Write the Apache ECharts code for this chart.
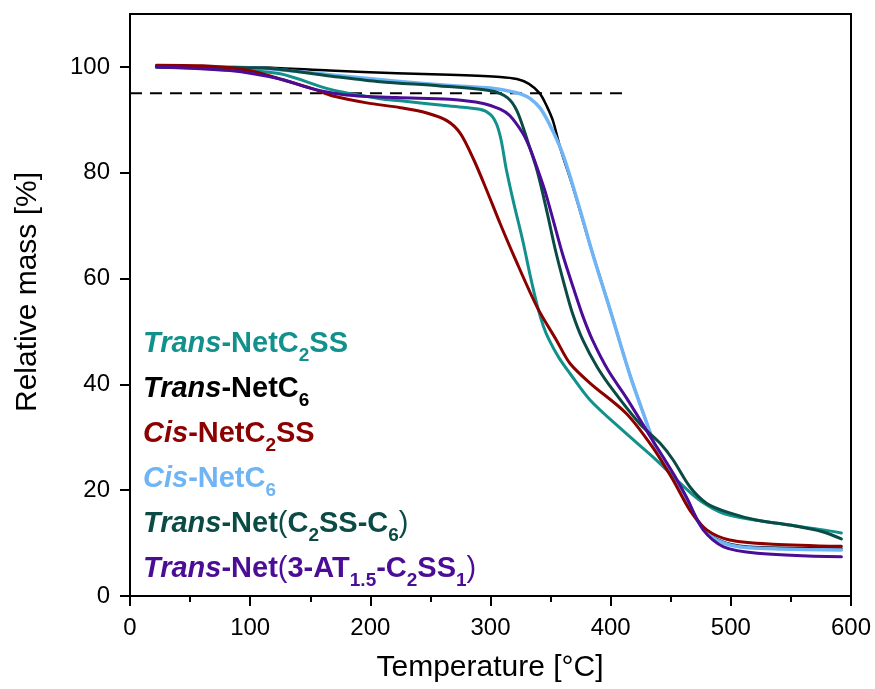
<!DOCTYPE html>
<html>
<head>
<meta charset="utf-8">
<script src="https://cdn.jsdelivr.net/npm/echarts@6/dist/echarts.min.js"></script>
<style>
  html, body { margin: 0; padding: 0; background: #fff; }
  #chart { width: 875px; height: 689px; }
</style>
</head>
<body>
<div id="chart"></div>
<script>
// TGA curves: [temperature in °C, relative mass in %]
const transNetC2SS = [[22,100],[83,99.5],[125,98.7],[166,95.8],[208,94],[225,93.6],[266,92.6],[291,92],[300,91],[305,89.2],[309,86],[313,80.8],[319,74.6],[327,67],[333,60.6],[339,54.8],[344,51],[349,48.3],[357,45],[366,42.1],[383,37],[410,31.3],[438,25.7],[458,21.3],[474,18.1],[494,15.6],[522,14.3],[549,13.4],[577,12.5],[592,11.9]];
const transNetC6 = [[22,100],[60,100],[112,99.9],[166,99.3],[222,98.8],[266,98.5],[308,98.1],[322,97.7],[332,96.8],[341,95],[347,92.5],[352,89.8],[358,84.7],[369,77],[385,64.7],[399,54.5],[416,41.8],[428,34],[438,27.8],[448,23.8],[458,20.6],[465,17.6],[472,14.5],[480,12.2],[488,10.8],[500,9.8],[515,9.3],[540,9.1],[592,9.0]];
const cisNetC2SS = [[22,100.3],[60,100.2],[100,99.3],[125,97.7],[153,95.8],[169,94.5],[197,93.2],[225,92.3],[247,91.3],[264,89.8],[275,87.4],[286,82.5],[297,76.6],[308,70.4],[320,64],[339,54.5],[355,48.3],[366,44],[383,40.2],[413,34.5],[435,28.1],[452,21.9],[466,16.2],[480,12.5],[499,10.6],[535,9.8],[592,9.4]];
const cisNetC6 = [[22,100],[60,100.1],[112,99.7],[166,98.5],[222,97.3],[266,96.5],[300,96],[314,95.5],[325,94.9],[333,94],[341,92.3],[349,89.2],[360,83.6],[374,73.4],[385,64.7],[399,54.5],[416,41.8],[428,34],[438,27.8],[448,23.8],[458,20.6],[465,17.5],[472,14.3],[480,12],[488,10.6],[500,9.6],[515,9.1],[540,8.9],[592,8.7]];
const transNetC2SSC6 = [[22,100],[111,99.8],[166,98.3],[208,97.2],[258,96.4],[300,95.5],[314,94.2],[322,91.7],[330,86.6],[339,80.2],[347,72.6],[354,65.4],[361,59.2],[368,53.6],[377,48.3],[389,43.2],[402,38.9],[424,32.6],[441,28.9],[452,25.7],[466,20.6],[480,17.5],[499,15.7],[522,14.3],[549,13.4],[577,12.1],[592,10.8]];
const transNet3AT = [[22,100],[83,99.3],[125,97.7],[153,95.8],[180,94.7],[222,94.2],[266,93.9],[294,93.1],[308,92],[316,90.8],[327,87.4],[333,84.5],[339,80.8],[345,76.8],[352,71.2],[360,64.6],[369,58.2],[377,52.8],[385,48.3],[398,42.6],[413,37.5],[435,29.4],[452,23.2],[463,18.7],[477,12.5],[494,9.3],[522,8.1],[592,7.4]];

// 95 % mass threshold
const thresholdLine = [[0,95],[413,95]];

const xTicks = [0,100,200,300,400,500,600];
const yTicks = [0,20,40,60,80,100];

const FONT = '"Liberation Sans", Arial, sans-serif';

const curves = [
  { name: 'Trans-NetC6', data: transNetC6, color: '#000000', width: 2.5 },
  { name: 'Cis-NetC6', data: cisNetC6, color: '#6fb5f5', width: 3.5 },
  { name: 'Trans-NetC2SS', data: transNetC2SS, color: '#12918c', width: 3 },
  { name: 'Trans-Net(C2SS-C6)', data: transNetC2SSC6, color: '#0b4b46', width: 3 },
  { name: 'Cis-NetC2SS', data: cisNetC2SS, color: '#8c0000', width: 3 },
  { name: 'Trans-Net(3-AT1.5-C2SS1)', data: transNet3AT, color: '#4b0c96', width: 3 }
];

const legendRows = [
  { color: '#12918c', text: '{i|Trans}{b|-NetC}{s|2}{b|SS}' },
  { color: '#000000', text: '{i|Trans}{b|-NetC}{s|6}' },
  { color: '#8c0000', text: '{i|Cis}{b|-NetC}{s|2}{b|SS}' },
  { color: '#6fb5f5', text: '{i|Cis}{b|-NetC}{s|6}' },
  { color: '#0b4b46', text: '{i|Trans}{b|-Net}{p|(}{b|C}{s|2}{b|SS-C}{s|6}{p|)}' },
  { color: '#4b0c96', text: '{i|Trans}{b|-Net}{p|(}{b|3-AT}{s|1.5}{b|-C}{s|2}{b|SS}{s|1}{p|)}' }
];

function richFor(color) {
  const main = { fontFamily: FONT, fontSize: 29, fontWeight: 'bold', color: color, height: 30, lineHeight: 30, verticalAlign: 'top' };
  return {
    i: Object.assign({}, main, { fontStyle: 'italic' }),
    b: main,
    p: Object.assign({}, main, { fontWeight: 'normal' }),
    s: { fontFamily: FONT, fontSize: 19, fontWeight: 'bold', color: color, height: 6, lineHeight: 6, verticalAlign: 'bottom' }
  };
}

const legendGraphics = legendRows.map((row, k) => ({
  type: 'text',
  left: 143,
  top: 329 + k * 45,
  style: { text: row.text, rich: richFor(row.color), fill: row.color }
}));

const chart = echarts.init(document.getElementById('chart'), null, { renderer: 'canvas' });

chart.setOption({
  animation: false,
  backgroundColor: '#ffffff',
  grid: { left: 130, right: 24, top: 14, bottom: 93, show: true, borderColor: '#000', borderWidth: 2, backgroundColor: 'transparent' },
  xAxis: {
    type: 'value', min: 0, max: 600, interval: 100,
    axisLine: { show: true, lineStyle: { color: '#000', width: 2 } },
    axisTick: { show: true, inside: false, length: 10, lineStyle: { color: '#000', width: 2 }, customValues: xTicks },
    minorTick: { show: true, splitNumber: 2, length: 6, lineStyle: { color: '#000', width: 2 } },
    axisLabel: { color: '#000', fontFamily: FONT, fontSize: 24, margin: 20, customValues: xTicks },
    splitLine: { show: false }
  },
  yAxis: {
    type: 'value', min: 0, max: 110, interval: 20,
    axisLine: { show: true, lineStyle: { color: '#000', width: 2 } },
    axisTick: { show: true, inside: false, length: 10, lineStyle: { color: '#000', width: 2 }, customValues: yTicks },
    axisLabel: { color: '#000', fontFamily: FONT, fontSize: 24, margin: 20, customValues: yTicks },
    splitLine: { show: false }
  },
  graphic: [
    { type: 'text', x: 490, y: 668, style: { text: 'Temperature [°C]', fontFamily: FONT, fontSize: 30, fill: '#000', align: 'center', verticalAlign: 'middle' } },
    { type: 'text', x: 28, y: 292, rotation: Math.PI / 2, style: { text: 'Relative mass [%]', fontFamily: FONT, fontSize: 30, fill: '#000', align: 'center', verticalAlign: 'middle' } }
  ].concat(legendGraphics),
  series: [
    {
      type: 'line', name: 'threshold', data: thresholdLine, symbol: 'none', silent: true,
      lineStyle: { color: '#000', width: 2, type: [12, 8] }
    }
  ].concat(curves.map(c => ({
    type: 'line', name: c.name, data: c.data, symbol: 'none',
    smooth: 0.3,
    lineStyle: { color: c.color, width: c.width, cap: 'round', join: 'round' }
  })))
});
</script>
</body>
</html>
